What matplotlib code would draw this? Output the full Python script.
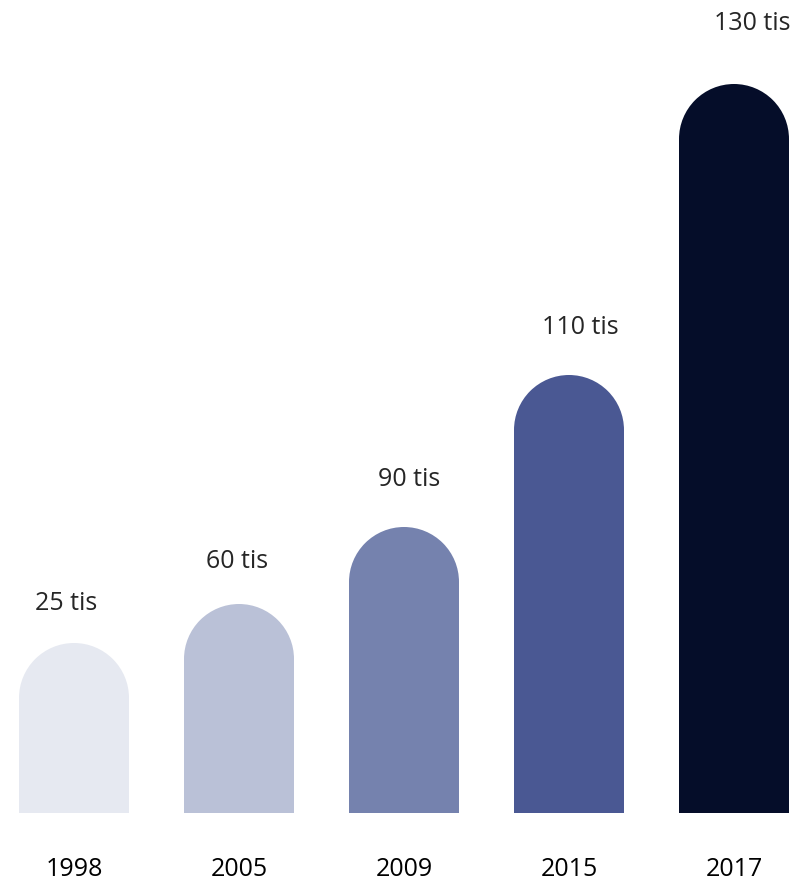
import matplotlib
matplotlib.use("Agg")
import matplotlib.pyplot as plt
from matplotlib.patches import Ellipse
import numpy as np

years = ["1998", "2005", "2009", "2015", "2017"]
value_labels = ["25 tis", "60 tis", "90 tis", "110 tis", "130 tis"]
# bar heights as drawn in the picture (not proportional to the labels)
bar_heights = [170, 209, 286, 438, 729]
colors = ["#E6E9F1", "#BAC1D7", "#7582AE", "#4A5893", "#050D29"]

plt.rcParams['font.family'] = ['Open Sans', 'DejaVu Sans']

fig = plt.figure(figsize=(8, 8.82), dpi=100)
ax = fig.add_axes([0, 0, 1, 1])
ax.set_xlim(-74 / 165, (800 - 74) / 165)
ax.set_ylim(-69, 813)
ax.axis("off")

width = 110 / 165
cap = 110  # cap height in y units (1 unit = 1 px)
x = np.arange(len(years))
label_shift = [-0.05, -0.01, 0.03, 0.07, 0.11]
label_gap = [40, 42, 47, 47, 61]

for i in x:
    h = bar_heights[i]
    ax.bar(i, h - cap / 2, width=width, color=colors[i], linewidth=0)
    ax.add_patch(Ellipse((i, h - cap / 2), width, cap, color=colors[i], linewidth=0))
    ax.text(i + label_shift[i], h + label_gap[i], value_labels[i], ha="center", va="center",
            fontsize=18, color="#262626")
    ax.text(i, -56, years[i], ha="center", va="center", fontsize=18, color="#000000")

fig.savefig("out.png", dpi=100, facecolor="white")
